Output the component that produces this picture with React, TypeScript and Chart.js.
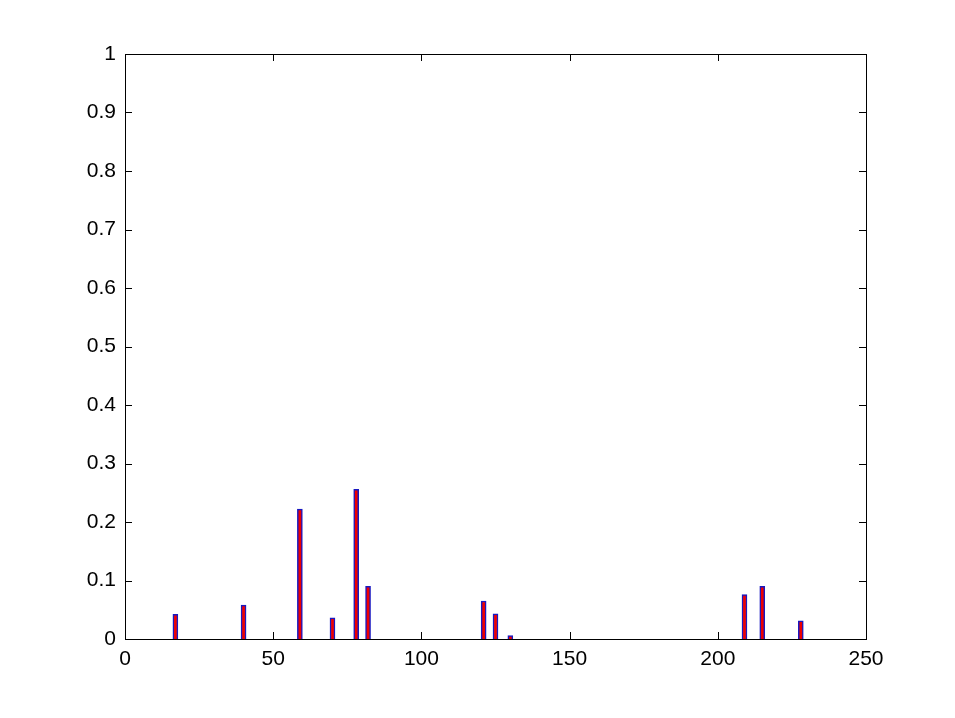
import React, { useEffect, useRef } from "react";
import { Chart, registerables } from "chart.js";

Chart.register(...registerables);

const positions = [17, 40, 59, 70, 78, 82, 121, 125, 130, 209, 215, 228];
const values = [0.042, 0.058, 0.222, 0.036, 0.256, 0.09, 0.065, 0.043, 0.006, 0.076, 0.09, 0.031];
const xTicks = [0, 50, 100, 150, 200, 250];
const yTicks = [0, 0.1, 0.2, 0.3, 0.4, 0.5, 0.6, 0.7, 0.8, 0.9, 1];

const boxPlugin = {
  id: "matlabBox",
  afterDatasetsDraw(chart: any) {
    const { ctx, chartArea, scales } = chart;
    const { left, right, top, bottom } = chartArea;
    ctx.save();
    ctx.lineWidth = 1;
    ctx.strokeStyle = "#00008f";
    ctx.beginPath();
    const y0 = Math.round(scales.y.getPixelForValue(0)) + 0.5;
    ctx.moveTo(left, y0);
    ctx.lineTo(right, y0);
    ctx.stroke();
    ctx.strokeStyle = "#000";
    ctx.strokeRect(Math.round(left) + 0.5, Math.round(top) + 0.5, Math.round(right - left), Math.round(bottom - top));
    const L = 7;
    ctx.beginPath();
    xTicks.forEach((v) => {
      const x = Math.round(scales.x.getPixelForValue(v)) + 0.5;
      ctx.moveTo(x, bottom);
      ctx.lineTo(x, bottom - L);
      ctx.moveTo(x, top);
      ctx.lineTo(x, top + L);
    });
    yTicks.forEach((v) => {
      const y = Math.round(scales.y.getPixelForValue(v)) + 0.5;
      ctx.moveTo(left, y);
      ctx.lineTo(left + L, y);
      ctx.moveTo(right, y);
      ctx.lineTo(right - L, y);
    });
    ctx.stroke();
    ctx.restore();
  },
};

export default function App() {
  const ref = useRef<HTMLCanvasElement | null>(null);
  useEffect(() => {
    document.body.style.margin = "0";
    const data = positions.map((x, i) => ({ x, y: values[i] }));
    const font = { family: "'Liberation Sans', Arial, sans-serif", size: 21 };
    const chart = new Chart(ref.current as HTMLCanvasElement, {
      type: "bar",
      data: {
        datasets: [
          {
            data,
            backgroundColor: "#ee0000",
            borderColor: "#1818c0",
            borderWidth: 1.5,
            barThickness: 5,
          } as any,
        ],
      },
      options: {
        animation: false,
        responsive: false,
        layout: { padding: { left: 0, right: 89, top: 54, bottom: 0 } },
        plugins: { legend: { display: false }, tooltip: { enabled: false } },
        scales: {
          x: {
            type: "linear",
            min: 0,
            max: 250,
            offset: false,
            grid: { display: false, drawTicks: false },
            border: { display: false },
            afterBuildTicks: (s: any) => {
              s.ticks = xTicks.map((v) => ({ value: v }));
            },
            afterFit: (s: any) => {
              s.height = 79;
            },
            ticks: { color: "#000", font, padding: 8, maxRotation: 0, autoSkip: false },
          },
          y: {
            type: "linear",
            min: 0,
            max: 1,
            grid: { display: false, drawTicks: false },
            border: { display: false },
            afterBuildTicks: (s: any) => {
              s.ticks = yTicks.map((v) => ({ value: v }));
            },
            afterFit: (s: any) => {
              s.width = 125;
            },
            ticks: {
              color: "#000",
              font,
              padding: 9,
              autoSkip: false,
              callback: (v: any) => String(Math.round(Number(v) * 10) / 10),
            },
          },
        },
      },
      plugins: [boxPlugin],
    });
    return () => chart.destroy();
  }, []);
  return (
    <div style={{ position: "absolute", left: 0, top: 0, width: 955, height: 718, background: "#fff" }}>
      <canvas ref={ref} width={955} height={718} />
    </div>
  );
}
